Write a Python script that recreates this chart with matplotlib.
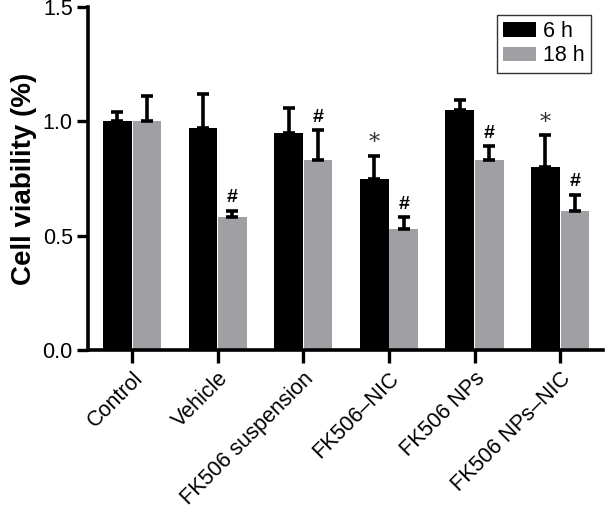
import matplotlib
matplotlib.use("Agg")
import matplotlib.pyplot as plt
import numpy as np

plt.rcParams['font.family'] = ['Liberation Sans', 'DejaVu Sans']

categories = ["Control", "Vehicle", "FK506 suspension", "FK506\u2013NIC", "FK506 NPs", "FK506 NPs\u2013NIC"]
series_names = ["6 h", "18 h"]
vals_6h = [1.00, 0.97, 0.95, 0.75, 1.05, 0.80]
err_6h = [0.04, 0.15, 0.11, 0.10, 0.045, 0.14]
vals_18h = [1.00, 0.58, 0.83, 0.53, 0.83, 0.61]
err_18h = [0.11, 0.03, 0.13, 0.05, 0.06, 0.07]
mark_6h = ["", "", "", "*", "", "*"]
mark_18h = ["", "#", "#", "#", "#", "#"]
yticks = [0.0, 0.5, 1.0, 1.5]

fig = plt.figure(figsize=(6.05, 5.05), dpi=100)
ax = fig.add_axes([88/605, 1-350/505, (603-88)/605, (350-7)/505])

x = np.arange(len(categories))
w = 0.335
gap = 0.01
black = "#000000"
gray = "#A0A0A4"
ekw = dict(elinewidth=2.6, capthick=2.6, ecolor="black")
ax.bar(x - w/2 - gap/2, vals_6h, w, color=black, label=series_names[0], zorder=2,
       yerr=[np.zeros(len(x)), err_6h], capsize=4.5, error_kw=ekw)
ax.bar(x + w/2 + gap/2, vals_18h, w, color=gray, label=series_names[1], zorder=2,
       yerr=[np.zeros(len(x)), err_18h], capsize=4.5, error_kw=ekw)

for i in range(len(x)):
    if mark_6h[i]:
        ax.text(x[i] - w/2 - gap/2, vals_6h[i] + err_6h[i] + 0.005, mark_6h[i],
                ha="center", va="bottom", fontsize=16, family="DejaVu Serif", color="#333333")
    if mark_18h[i]:
        ax.text(x[i] + w/2 + gap/2, vals_18h[i] + err_18h[i] + 0.018, mark_18h[i],
                ha="center", va="bottom", fontsize=14, fontweight="bold")

ax.set_xlim(-0.515, 5.5)
ax.set_ylim(0, 1.5)
ax.set_yticks(yticks)
ax.set_yticklabels([f"{t:.1f}" for t in yticks], fontsize=15.5)
ax.set_xticks(x)
ax.set_xticklabels(categories, rotation=45, ha="right", rotation_mode="anchor", fontsize=15.5)
ax.tick_params(axis="y", length=8, width=2.4, pad=3)
ax.tick_params(axis="x", length=9, width=2.4, pad=4)
for s in ["top", "right"]:
    ax.spines[s].set_visible(False)
for s in ["left", "bottom"]:
    ax.spines[s].set_linewidth(2.6)
ax.set_ylabel("Cell viability (%)", fontsize=20, fontweight="bold", labelpad=4)

leg = ax.legend(loc="upper right", bbox_to_anchor=(0.985, 0.99), fontsize=15.5, frameon=True,
                fancybox=False, edgecolor="black", handlelength=1.55, handleheight=0.65,
                handletextpad=0.3, borderpad=0.3, labelspacing=0.15, borderaxespad=0.2)
leg.get_frame().set_linewidth(1.0)

fig.savefig("out.png", dpi=100)
